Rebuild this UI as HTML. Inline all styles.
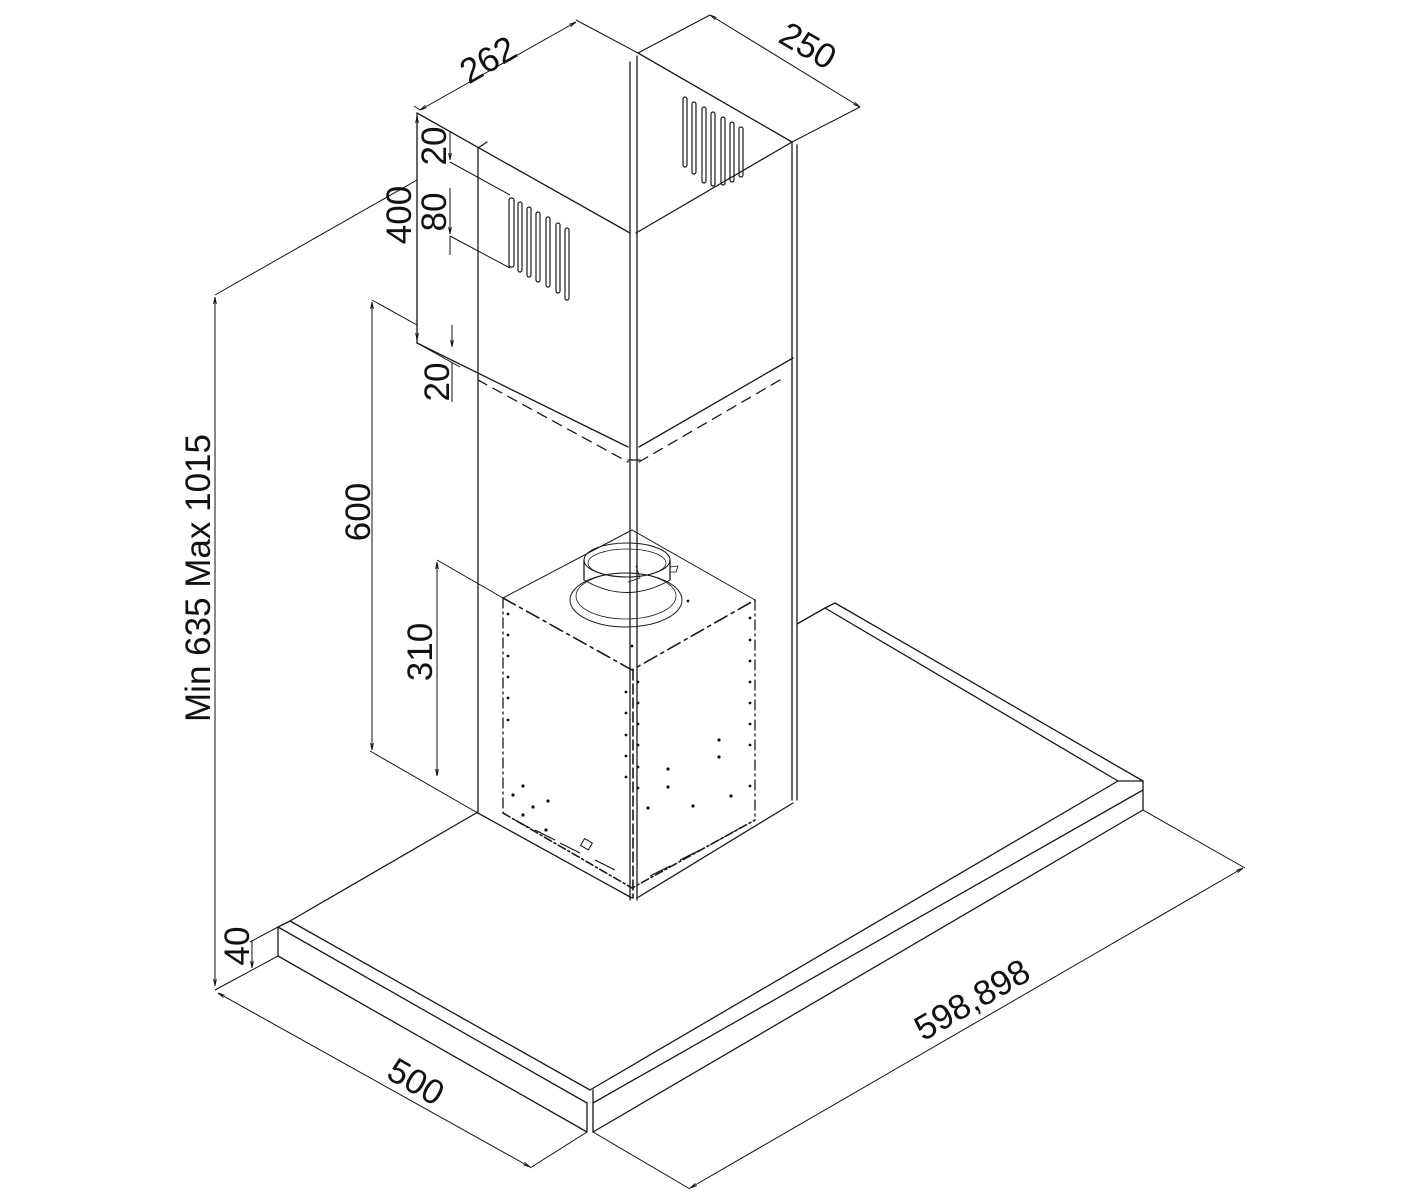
<!DOCTYPE html>
<html><head><meta charset="utf-8"><style>
html,body{margin:0;padding:0;background:#fff}
svg{display:block}
text{font-family:"Liberation Sans",sans-serif;fill:#111}
</style></head><body>
<svg width="1412" height="1200" viewBox="0 0 1412 1200" xmlns="http://www.w3.org/2000/svg">
<defs>
<marker id="a" viewBox="0 0 10 10" refX="10" refY="5" markerWidth="7" markerHeight="7" orient="auto-start-reverse"><path d="M0,3 L10,5 L0,7" fill="none" stroke="#111" stroke-width="1.2"/></marker>
</defs>
<g stroke="#1a1a1a" stroke-width="1.3" fill="none" stroke-linecap="round">
<line x1="417" y1="113" x2="630" y2="233"/>
<line x1="638" y1="53" x2="792" y2="142"/>
<line x1="636" y1="233" x2="792" y2="142"/>
<line x1="630" y1="62" x2="630" y2="900"/>
<line x1="637" y1="56" x2="637" y2="900"/>
<line x1="417" y1="113" x2="417" y2="343"/>
<line x1="478" y1="148" x2="478" y2="812"/>
<line x1="478" y1="148" x2="487" y2="142"/>
<line x1="792" y1="142" x2="792" y2="800"/>
<line x1="797" y1="145" x2="797" y2="800"/>
<line x1="417" y1="343" x2="628" y2="447"/>
<line x1="639" y1="447" x2="793" y2="358"/>
<line x1="628" y1="460" x2="640" y2="460"/>
<path d="M478,380 L628,462 M639,462 L780,380" stroke-dasharray="10,7"/>
<g stroke-width="1.2">
<rect x="509" y="198" width="5" height="69" rx="2"/>
<rect x="518" y="202" width="4" height="70" rx="2"/>
<rect x="527" y="207" width="4" height="70" rx="2"/>
<rect x="536" y="212" width="4" height="70" rx="2"/>
<rect x="546" y="217" width="4" height="70" rx="2"/>
<rect x="556" y="223" width="4" height="70" rx="2"/>
<rect x="565" y="228" width="4" height="72" rx="2"/>
<rect x="683" y="97" width="4" height="70" rx="2"/>
<rect x="692" y="102" width="4" height="72" rx="2"/>
<rect x="702" y="107" width="4" height="76" rx="2"/>
<rect x="711" y="112" width="4" height="74" rx="2"/>
<rect x="721" y="117" width="4" height="68" rx="2"/>
<rect x="730" y="122" width="4" height="60" rx="2"/>
<rect x="739" y="127" width="4" height="50" rx="2"/>
</g>
<line x1="290" y1="921" x2="478" y2="812"/>
<line x1="290" y1="921" x2="590" y2="1090"/>
<line x1="278" y1="927" x2="587" y2="1103"/>
<line x1="278" y1="927" x2="290" y2="921"/>
<line x1="278" y1="927" x2="278" y2="956"/>
<line x1="278" y1="956" x2="587" y2="1132"/>
<line x1="587" y1="1103" x2="587" y2="1132"/>
<line x1="593" y1="1090" x2="593" y2="1132"/>
<line x1="590" y1="1090" x2="1118" y2="781"/>
<line x1="593" y1="1103" x2="1143" y2="790"/>
<line x1="593" y1="1132" x2="1143" y2="810"/>
<line x1="1118" y1="781" x2="1143" y2="781"/>
<line x1="1143" y1="781" x2="1143" y2="810"/>
<line x1="1143" y1="781" x2="835" y2="603"/>
<line x1="1118" y1="781" x2="825" y2="608"/>
<line x1="835" y1="603" x2="825" y2="608"/>
<line x1="825" y1="608" x2="797" y2="624"/>
<line x1="476" y1="812" x2="632" y2="898"/>
<line x1="793" y1="803" x2="637" y2="898"/>
<path d="M503,598 L632,530 L755,600" stroke-width="1"/>
<path d="M503,598 L632,670 L755,600" stroke-dasharray="14,5,3,5" stroke-width="1.6"/>
<path d="M503,598 L503,813 M755,600 L755,820" stroke-dasharray="10,4,2,4"/>
<path d="M633,670 L633,898" stroke-dasharray="10,4" stroke-width="1.6"/>
<path d="M503,813 L632,888 L755,820" stroke-dasharray="8,3,2,3" stroke-width="1.6"/>
<ellipse cx="626" cy="600" rx="56" ry="27" stroke-width="1"/>
<ellipse cx="626" cy="596" rx="50" ry="23" stroke-width="0.8"/>
<ellipse cx="627" cy="560" rx="43" ry="17" stroke-width="1"/>
<ellipse cx="627" cy="563" rx="39" ry="14" stroke-width="0.8"/>
<line x1="584" y1="560" x2="584" y2="580"/>
<line x1="670" y1="560" x2="670" y2="580"/>
<path d="M584,580 Q627,605 670,580" stroke-width="1"/>
<path d="M670,567 L678,566 L676,572 L670,572" stroke-width="0.8"/>
<path d="M628,582 L640,578 L636,566" stroke-width="0.8"/>
</g>
<g fill="#111">
<circle cx="508" cy="614" r="1.4"/><circle cx="508" cy="635" r="1.4"/><circle cx="508" cy="656" r="1.4"/><circle cx="508" cy="677" r="1.4"/><circle cx="508" cy="698" r="1.4"/><circle cx="508" cy="720" r="1.4"/>
<circle cx="626" cy="692" r="1.4"/><circle cx="626" cy="713" r="1.4"/><circle cx="626" cy="735" r="1.4"/><circle cx="626" cy="756" r="1.4"/><circle cx="626" cy="777" r="1.4"/>
<circle cx="638" cy="682" r="1.4"/><circle cx="638" cy="703" r="1.4"/><circle cx="638" cy="724" r="1.4"/><circle cx="638" cy="745" r="1.4"/><circle cx="638" cy="767" r="1.4"/><circle cx="638" cy="788" r="1.4"/>
<circle cx="750" cy="618" r="1.4"/><circle cx="750" cy="640" r="1.4"/><circle cx="750" cy="661" r="1.4"/><circle cx="750" cy="682" r="1.4"/><circle cx="750" cy="703" r="1.4"/><circle cx="750" cy="724" r="1.4"/><circle cx="750" cy="745" r="1.4"/><circle cx="750" cy="786" r="1.4"/>
<circle cx="719" cy="740" r="1.6"/><circle cx="719" cy="757" r="1.6"/><circle cx="668" cy="769" r="1.6"/><circle cx="668" cy="787" r="1.6"/><circle cx="648" cy="808" r="1.6"/><circle cx="693" cy="806" r="1.6"/><circle cx="731" cy="796" r="1.6"/>
<circle cx="523" cy="786" r="1.6"/><circle cx="513" cy="795" r="1.6"/><circle cx="533" cy="807" r="1.6"/><circle cx="548" cy="801" r="1.6"/><circle cx="523" cy="815" r="1.6"/><circle cx="546" cy="830" r="1.6"/><circle cx="688" cy="601" r="1.4"/><circle cx="632" cy="646" r="1.4"/>
</g>
<g stroke="#111" stroke-width="1" fill="none">
<rect x="582" y="840" width="9" height="8" transform="rotate(30 586 844)"/>
<path d="M515,820 L530,828 M535,830 L555,840 M560,843 L580,853 M595,860 L615,870 M650,876 L670,866 M680,860 L700,850 M710,845 L740,828"/>
</g>
<g stroke="#111" stroke-width="1" fill="none">
<line x1="420" y1="110" x2="576" y2="22" marker-start="url(#a)" marker-end="url(#a)"/>
<line x1="576" y1="20" x2="638" y2="53"/>
<line x1="414" y1="106" x2="420" y2="110"/>
<line x1="710" y1="15" x2="860" y2="107" marker-start="url(#a)" marker-end="url(#a)"/>
<line x1="710" y1="15" x2="638" y2="53"/>
<line x1="860" y1="107" x2="792" y2="142"/>
<line x1="417" y1="116" x2="417" y2="340" marker-start="url(#a)" marker-end="url(#a)"/>
<line x1="450" y1="132" x2="450" y2="160" marker-end="url(#a)"/>
<line x1="450" y1="162" x2="510" y2="195"/>
<line x1="450" y1="188" x2="450" y2="234" marker-end="url(#a)"/>
<line x1="450" y1="236" x2="510" y2="268"/>
<line x1="450" y1="236" x2="450" y2="255"/>
<line x1="452" y1="325" x2="452" y2="347" marker-end="url(#a)"/>
<line x1="452" y1="362" x2="452" y2="402"/>
<line x1="417" y1="343" x2="460" y2="367"/>
<line x1="372" y1="302" x2="372" y2="750" marker-start="url(#a)" marker-end="url(#a)"/>
<line x1="372" y1="300" x2="417" y2="325"/>
<line x1="370" y1="751" x2="476" y2="812"/>
<line x1="437" y1="562" x2="437" y2="776" marker-start="url(#a)" marker-end="url(#a)"/>
<line x1="437" y1="560" x2="503" y2="598"/>
<line x1="215" y1="297" x2="215" y2="986" marker-start="url(#a)" marker-end="url(#a)"/>
<line x1="215" y1="295" x2="417" y2="180"/>
<line x1="215" y1="990" x2="278" y2="956"/>
<line x1="252" y1="948" x2="252" y2="968" marker-end="url(#a)"/>
<line x1="252" y1="948" x2="252" y2="940"/>
<line x1="250" y1="942" x2="278" y2="927"/>
<line x1="218" y1="993" x2="530" y2="1167" marker-start="url(#a)" marker-end="url(#a)"/>
<line x1="587" y1="1132" x2="530" y2="1168"/>
<line x1="690" y1="1188" x2="1243" y2="868" marker-start="url(#a)" marker-end="url(#a)"/>
<line x1="593" y1="1132" x2="690" y2="1189"/>
<line x1="1143" y1="810" x2="1245" y2="868"/>
</g>
<g font-size="35">
<text transform="translate(494,70) rotate(-30)" text-anchor="middle">262</text>
<text transform="translate(802,56) rotate(30)" text-anchor="middle">250</text>
<text transform="translate(446,146) rotate(-90)" text-anchor="middle">20</text>
<text transform="translate(446,212) rotate(-90)" text-anchor="middle">80</text>
<text transform="translate(411,215) rotate(-90)" text-anchor="middle">400</text>
<text transform="translate(449,382) rotate(-90)" text-anchor="middle">20</text>
<text transform="translate(370,512) rotate(-90)" text-anchor="middle">600</text>
<text transform="translate(432,652) rotate(-90)" text-anchor="middle">310</text>
<text transform="translate(210,578) rotate(-90)" text-anchor="middle">Min 635 Max 1015</text>
<text transform="translate(249,946) rotate(-90)" text-anchor="middle">40</text>
<text transform="translate(410,1092) rotate(30)" text-anchor="middle">500</text>
<text transform="translate(978,1010) rotate(-30)" text-anchor="middle">598,898</text>
</g>
</svg>
</body></html>
